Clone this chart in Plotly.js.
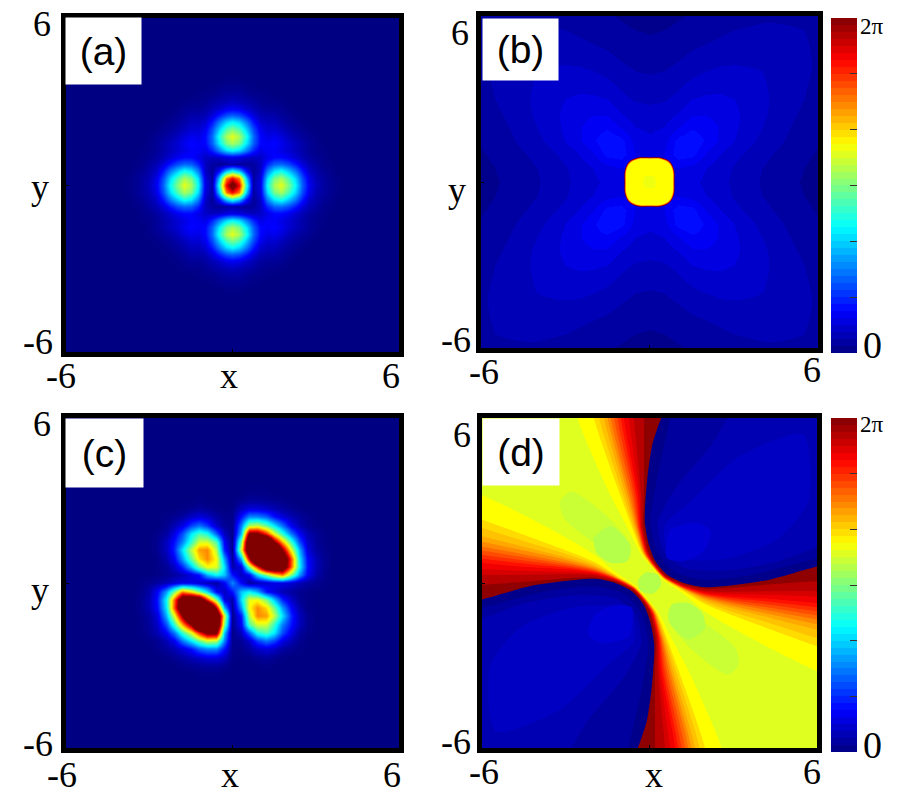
<!DOCTYPE html>
<html>
<head>
<meta charset="utf-8">
<script src="https://cdn.plot.ly/plotly-3.0.1.min.js"></script>
<style>html,body{margin:0;padding:0;background:#fff}</style>
</head>
<body>
<div id="chart" style="width:901px;height:796px"></div>
<script>
// (a) density, one quadrant: rows y = aAxis, columns x = aAxis, mirrored below
const aAxis = [0, .25, .5, .75, 1, 1.25, 1.5, 1.75, 2, 2.25, 2.5, 2.75, 3, 3.25, 3.5, 3.75, 4];
const aQuadrant = [
  [1.1, .88, .42, .04, .1, .38, .54, .6, .5, .38, .22, .11, .06, .03, .015, .005, 0],
  [.88, .75, .33, .03, .09, .34, .49, .54, .45, .34, .2, .1, .05, .03, .015, .005, 0],
  [.42, .33, .14, .02, .07, .25, .36, .4, .33, .25, .15, .07, .04, .02, .01, 0, 0],
  [.04, .03, .02, .03, .06, .16, .22, .23, .2, .15, .09, .05, .03, .01, .005, 0, 0],
  [.1, .09, .07, .06, .07, .1, .13, .13, .11, .08, .05, .03, .015, .01, 0, 0, 0],
  [.38, .34, .25, .16, .1, .12, .12, .1, .08, .06, .04, .02, .01, .005, 0, 0, 0],
  [.54, .49, .36, .22, .13, .12, .13, .11, .08, .06, .04, .02, .01, 0, 0, 0, 0],
  [.6, .54, .4, .23, .13, .1, .11, .09, .06, .04, .025, .015, .005, 0, 0, 0, 0],
  [.5, .45, .33, .2, .11, .08, .08, .06, .04, .025, .015, .005, 0, 0, 0, 0, 0],
  [.38, .34, .25, .15, .08, .06, .06, .04, .025, .015, .005, 0, 0, 0, 0, 0, 0],
  [.22, .2, .15, .09, .05, .04, .04, .025, .015, .005, 0, 0, 0, 0, 0, 0, 0],
  [.11, .1, .07, .05, .03, .02, .02, .015, .005, 0, 0, 0, 0, 0, 0, 0, 0],
  [.06, .05, .04, .03, .015, .01, .01, .005, 0, 0, 0, 0, 0, 0, 0, 0, 0],
  [.03, .03, .02, .01, .01, .005, 0, 0, 0, 0, 0, 0, 0, 0, 0, 0, 0],
  [.015, .015, .01, .005, 0, 0, 0, 0, 0, 0, 0, 0, 0, 0, 0, 0, 0],
  [.005, .005, 0, 0, 0, 0, 0, 0, 0, 0, 0, 0, 0, 0, 0, 0, 0],
  [0, 0, 0, 0, 0, 0, 0, 0, 0, 0, 0, 0, 0, 0, 0, 0, 0]
];

// (b) phase in 1/48ths of 2pi, one quadrant
const bAxis = [0, .5, 1, 1.5, 2, 2.5, 3, 3.5, 4, 4.5, 5, 5.5, 6];
const bQuadrant = [
  [4.6, 4.6, 4.5, 4.2, 3.8, 3.3, 2.8, 2.35, 1.9, 1.55, 1.2, .9, .6],
  [4.6, 4.8, 5, 4.6, 4, 3.45, 2.9, 2.4, 2, 1.65, 1.35, 1, .7],
  [4.5, 5, 6.6, 6.4, 4.9, 4, 3.3, 2.8, 2.3, 1.9, 1.55, 1.2, .9],
  [4.2, 4.6, 6.4, 6.9, 5.8, 4.8, 4, 3.3, 2.7, 2.25, 1.8, 1.45, 1.1],
  [3.8, 4, 4.9, 5.8, 5.5, 4.9, 4.2, 3.6, 3, 2.5, 2, 1.65, 1.3],
  [3.3, 3.45, 4, 4.8, 4.9, 4.6, 4.2, 3.7, 3.2, 2.7, 2.2, 1.8, 1.45],
  [2.8, 2.9, 3.3, 4, 4.2, 4.2, 4, 3.6, 3.2, 2.8, 2.4, 2, 1.6],
  [2.35, 2.4, 2.8, 3.3, 3.6, 3.7, 3.6, 3.3, 3.1, 2.8, 2.45, 2.1, 1.7],
  [1.9, 2, 2.3, 2.7, 3, 3.2, 3.2, 3.1, 3, 2.8, 2.5, 2.2, 1.8],
  [1.55, 1.65, 1.9, 2.25, 2.5, 2.7, 2.8, 2.8, 2.8, 2.6, 2.4, 2.2, 1.8],
  [1.2, 1.35, 1.55, 1.8, 2, 2.2, 2.4, 2.45, 2.5, 2.4, 2.3, 2.1, 1.8],
  [.9, 1, 1.2, 1.45, 1.65, 1.8, 2, 2.1, 2.2, 2.2, 2.1, 2, 1.75],
  [.6, .7, .9, 1.1, 1.3, 1.45, 1.6, 1.7, 1.8, 1.8, 1.8, 1.75, 1.7]
];
// central plateau outline of (b), and the size of each nested contour
const coreX = [1, .98, .82, .5, 0, -.5, -.82, -.98, -1, -.98, -.82, -.5, 0, .5, .82, .98, 1];
const coreY = [0, .5, .82, .98, 1, .98, .82, .5, 0, -.5, -.82, -.98, -1, -.98, -.82, -.5, 0];
const coreSizes = [.89, .875, .86, .84, .22];
const coreColors = ["#700000", "#f00000", "#ffa000", "#ffff00", "#eeff10"];

// (c) density, y >= 0 half: the lower half is the same turned by 180 degrees
const cX = [-3.9, -3.6, -3.3, -3, -2.7, -2.4, -2.1, -1.8, -1.5, -1.2, -.9, -.6, -.3, 0, .3, .6, .9, 1.2, 1.5, 1.8, 2.1, 2.4, 2.7, 3, 3.3, 3.6, 3.9];
const cY = [0, .3, .6, .9, 1.2, 1.5, 1.8, 2.1, 2.4, 2.7, 3, 3.3, 3.6, 3.9];
const cUpper = [
  [0, 0, .005, .015, .03, .05, .08, .1, .1, .08, .05, .03, .12, .26, .12, .03, .05, .08, .1, .1, .08, .05, .03, .015, .005, 0, 0],
  [0, 0, 0, 0, .005, .015, .03, .05, .09, .14, .3, .38, .32, .14, .06, .12, .35, .5, .65, .75, .5, .28, .12, .04, .01, 0, 0],
  [0, 0, 0, 0, .005, .02, .07, .16, .32, .5, .62, .6, .35, .04, .1, .5, .85, 1.25, 1.3, 1.2, .78, .38, .14, .05, .015, 0, 0],
  [0, 0, 0, 0, .005, .04, .12, .28, .48, .66, .74, .62, .28, .02, .3, .95, 1.6, 1.9, 1.7, 1.25, .8, .36, .13, .05, .015, 0, 0],
  [0, 0, 0, 0, .015, .06, .16, .35, .56, .72, .74, .55, .15, .01, .6, 1.3, 1.9, 2, 1.5, 1, .6, .3, .09, .03, .008, 0, 0],
  [0, 0, 0, 0, .015, .06, .14, .25, .42, .58, .58, .45, .12, .01, .5, 1.3, 1.6, 1.5, 1, .7, .42, .2, .07, .025, .005, 0, 0],
  [0, 0, 0, 0, .008, .03, .1, .2, .36, .45, .4, .22, .06, .005, .32, 1.05, 1.05, .85, .6, .42, .24, .12, .05, .02, .005, 0, 0],
  [0, 0, 0, 0, 0, .015, .05, .1, .19, .24, .18, .07, .02, .01, .25, .55, .58, .48, .36, .24, .11, .05, .015, .005, 0, 0, 0],
  [0, 0, 0, 0, 0, .005, .015, .03, .07, .09, .07, .03, .01, .01, .14, .26, .26, .22, .14, .09, .05, .025, .01, 0, 0, 0, 0],
  [0, 0, 0, 0, 0, 0, 0, .005, .015, .025, .015, .005, 0, .005, .06, .09, .09, .07, .05, .03, .015, .005, 0, 0, 0, 0, 0],
  [0, 0, 0, 0, 0, 0, 0, 0, 0, .005, 0, 0, 0, 0, .015, .025, .025, .02, .015, .008, 0, 0, 0, 0, 0, 0, 0],
  [0, 0, 0, 0, 0, 0, 0, 0, 0, 0, 0, 0, 0, 0, 0, .005, .005, .005, 0, 0, 0, 0, 0, 0, 0, 0, 0],
  [0, 0, 0, 0, 0, 0, 0, 0, 0, 0, 0, 0, 0, 0, 0, 0, 0, 0, 0, 0, 0, 0, 0, 0, 0, 0, 0],
  [0, 0, 0, 0, 0, 0, 0, 0, 0, 0, 0, 0, 0, 0, 0, 0, 0, 0, 0, 0, 0, 0, 0, 0, 0, 0, 0]
];

// (d) background phase (fraction of 2pi) between the fans
const dX = [-6, 0, 6];
const dY = [-6, 0, 6];
const dBase = [
  [.594, .594, .594],
  [.594, .594, .594],
  [.594, .594, .594]
];
// phase contours hugging the upper right lobe of (d); the other half is the same turned
const fanLevels = [.625, .66, .685, .71, .74, .77, .8, .83, .86, .89, .915, .945, .985];
const fanX = [
  [-2.7, -2.58, -1.4, -.78, -.33, .03, .5, 1.23, 1.94, 2.82, 4.37, 6, 7, 7, -2.7],
  [-2.1, -1.99, -1.05, -.62, -.27, .06, .52, 1.23, 1.94, 2.82, 4.37, 6, 7, 7, -2.1],
  [-1.9, -1.8, -.95, -.57, -.245, .07, .525, 1.23, 1.94, 2.82, 4.37, 6, 7, 7, -1.9],
  [-1.7, -1.63, -.85, -.52, -.22, .08, .53, 1.23, 1.94, 2.82, 4.37, 6, 7, 7, -1.7],
  [-1.57, -1.5, -.77, -.48, -.2, .09, .535, 1.23, 1.94, 2.82, 4.37, 6, 7, 7, -1.57],
  [-1.45, -1.39, -.7, -.44, -.18, .1, .54, 1.23, 1.94, 2.82, 4.37, 6, 7, 7, -1.45],
  [-1.32, -1.27, -.62, -.41, -.16, .11, .545, 1.23, 1.94, 2.82, 4.37, 6, 7, 7, -1.32],
  [-1.2, -1.15, -.55, -.38, -.14, .12, .55, 1.23, 1.94, 2.82, 4.37, 6, 7, 7, -1.2],
  [-1.08, -1.03, -.48, -.35, -.12, .13, .555, 1.23, 1.94, 2.82, 4.37, 6, 7, 7, -1.08],
  [-.97, -.92, -.42, -.32, -.1, .14, .56, 1.23, 1.94, 2.82, 4.37, 6, 7, 7, -.97],
  [-.78, -.74, -.36, -.3, -.08, .15, .565, 1.23, 1.94, 2.82, 4.37, 6, 7, 7, -.78],
  [-.6, -.56, -.3, -.27, -.06, .16, .57, 1.23, 1.94, 2.82, 4.37, 6, 7, 7, -.6],
  [-.2, -.2, -.2, -.22, -.02, .18, .58, 1.23, 1.94, 2.82, 4.37, 6, 7, 7, -.2]
];
const fanY = [
  [7, 6, 3.2, 2, 1.1, .62, .1, -.4, -1, -1.55, -2.4, -3.2, -3.6, 7, 7],
  [7, 6, 3.2, 2, 1.1, .64, .14, -.3, -.75, -1.12, -1.7, -2.3, -2.6, 7, 7],
  [7, 6, 3.2, 2, 1.1, .65, .15, -.27, -.67, -1, -1.48, -2, -2.25, 7, 7],
  [7, 6, 3.2, 2, 1.1, .66, .16, -.24, -.6, -.88, -1.28, -1.7, -1.95, 7, 7],
  [7, 6, 3.2, 2, 1.1, .665, .17, -.22, -.55, -.8, -1.15, -1.5, -1.7, 7, 7],
  [7, 6, 3.2, 2, 1.1, .67, .18, -.2, -.5, -.72, -1.02, -1.33, -1.5, 7, 7],
  [7, 6, 3.2, 2, 1.1, .675, .19, -.185, -.465, -.66, -.91, -1.18, -1.33, 7, 7],
  [7, 6, 3.2, 2, 1.1, .68, .2, -.17, -.43, -.6, -.8, -1.03, -1.18, 7, 7],
  [7, 6, 3.2, 2, 1.1, .69, .21, -.15, -.395, -.54, -.69, -.88, -1, 7, 7],
  [7, 6, 3.2, 2, 1.1, .7, .22, -.13, -.36, -.48, -.58, -.73, -.85, 7, 7],
  [7, 6, 3.2, 2, 1.1, .705, .23, -.11, -.32, -.4, -.44, -.51, -.62, 7, 7],
  [7, 6, 3.2, 2, 1.1, .71, .24, -.09, -.28, -.32, -.3, -.3, -.4, 7, 7],
  [7, 6, 3.2, 2, 1.1, .72, .26, -.05, -.2, -.18, -.05, .06, .05, 7, 7]
];
// greener patches in the middle of the bright fan
const patchLevels = [.573, .552, .552];
const patchX = [
  [-3.2, -2.8, -1.6, -.68, -.72, -1.87, -3.07, -3.2],
  [-1.99, -1.39, -.7, -.8, -1.39, -1.89, -1.99],
  [-.4, -.12, .32, .4, .12, -.32, -.4]
];
const patchY = [
  [2.97, 3.33, 2.5, 1.39, .9, 1.39, 2.36, 2.97],
  [1.64, 2.06, 1.39, .79, .73, 1.09, 1.64],
  [.1, .38, .28, -.1, -.38, -.28, .1]
];
// nested blue contours of the upper right lobe of (d); the lower left lobe is the same turned
const lobeX = [
  [.5, .42, .33, .1, -.08, -.17, -.02, .21, .63, 1.23, 1.94, 3.13, 4.3, 6, 7, 7, .5],
  [.95, .75, .27, .04, .27, .87, 1.94, 3.7, 6, 7, 7, .95],
  [3.6, 2.2, .9, .3, .5, 1.23, 2.65, 4.5, 6, 7, 7, 3.6],
  [5.5, 3.2, 1.5, .55, .6, 1.3, 2.8, 4.6, 5.7, 5.5],
  [.6, .75, 1.7, 2.2, 1.95, 1.23, .63, .6]
];
const lobeY = [
  [7, 6, 5.76, 5.03, 3.8, 2.24, 1.39, .79, .3, 0, -.15, -.06, .12, .6, .8, 7, 7],
  [7, 6, 3.8, 2.24, 1.15, .42, .12, .3, .9, 1.1, 7, 7],
  [7, 5, 3.4, 2.2, 1.15, .55, .45, .75, 1.3, 1.6, 7, 7],
  [5.4, 4.6, 3, 2.1, 1.3, .85, .9, 1.6, 3, 5.4],
  [1.4, 1.95, 2.2, 1.88, 1.15, .8, .9, 1.4]
];
const lobeColors = ["#00008a", "#00009e", "#0000b2", "#0000c2", "#0000d4"];

const colorbarTicks = [8, 16, 24, 32, 40];
const LEVELS = 48;

const jetStops = [
  [0, [0, 0, 131]], [.125, [0, 0, 255]], [.375, [0, 255, 255]],
  [.625, [255, 255, 0]], [.875, [255, 0, 0]], [1, [128, 0, 0]]
];
const jet = jetStops.map(s => [s[0], `rgb(${s[1].join(",")})`]);

function jetAt(t) {
  let i = 0;
  while (i < jetStops.length - 2 && t > jetStops[i + 1][0]) i++;
  const [t0, c0] = jetStops[i];
  const [t1, c1] = jetStops[i + 1];
  const f = (t - t0) / (t1 - t0);
  return `rgb(${c0.map((c, k) => Math.round(c + (c1[k] - c) * f)).join(",")})`;
}

// the contour-filled panels and their colour bars are stepped
const steppedJet = [];
for (let k = 0; k < LEVELS; k++) {
  const color = jetAt((k + .5) / LEVELS);
  steppedJet.push([k / LEVELS, color], [(k + 1) / LEVELS, color]);
}

function mirrorAxis(axis) {
  return [...axis.slice(1).reverse().map(v => -v), ...axis];
}
function mirrorQuadrant(rows) {
  const full = rows.map(r => [...r.slice(1).reverse(), ...r]);
  return [...full.slice(1).reverse(), ...full];
}
function turnHalf(rows) {
  return [...rows.slice(1).reverse().map(r => r.slice().reverse()), ...rows];
}

const W = 901, H = 796;
const px = x => x / W;
const py = y => 1 - y / H;

const panels = [
  { name: "", x0: 66, x1: 399, y0: 18, y1: 352 },
  { name: "2", x0: 481, x1: 818, y0: 16, y1: 348 },
  { name: "3", x0: 66, x1: 399, y0: 418, y1: 748 },
  { name: "4", x0: 482, x1: 817, y0: 418, y1: 748 }
];

function barFor(y0, y1) {
  return {
    x: px(831), xanchor: "left", xpad: 0,
    y: py(y0), yanchor: "top", ypad: 0,
    len: (y1 - y0) / H, lenmode: "fraction",
    thickness: 26, thicknessmode: "pixels",
    outlinewidth: 0,
    tickmode: "array", tickvals: colorbarTicks,
    ticks: "inside", ticklen: 7, tickcolor: "#333", tickwidth: 1,
    showticklabels: false
  };
}

const traces = [
  {
    type: "heatmap", x: mirrorAxis(aAxis), y: mirrorAxis(aAxis), z: mirrorQuadrant(aQuadrant),
    zmin: 0, zmax: 1, zsmooth: "best", colorscale: jet, showscale: false, xaxis: "x", yaxis: "y"
  },
  {
    type: "heatmap", x: mirrorAxis(bAxis), y: mirrorAxis(bAxis), z: mirrorQuadrant(bQuadrant),
    zmin: 0, zmax: LEVELS, zsmooth: "best", colorscale: steppedJet,
    colorbar: barFor(18, 353), xaxis: "x2", yaxis: "y2"
  },
  {
    type: "heatmap", x: cX, y: mirrorAxis(cY), z: turnHalf(cUpper),
    zmin: 0, zmax: 1, zsmooth: "best", colorscale: jet, showscale: false, xaxis: "x3", yaxis: "y3"
  },
  {
    type: "heatmap", x: dX, y: dY, z: dBase,
    zmin: 0, zmax: 1, colorscale: steppedJet, xaxis: "x4", yaxis: "y4",
    colorbar: { ...barFor(418, 752), tickvals: colorbarTicks.map(v => v / LEVELS) }
  }
];

function filled(x, y, color, xaxis, yaxis, smoothing) {
  return {
    type: "scatter", mode: "lines", x, y, fill: "toself", fillcolor: color,
    line: { width: 0, shape: "spline", smoothing: smoothing || .7, color },
    hoverinfo: "skip", showlegend: false, xaxis, yaxis
  };
}
function filledBothWays(x, y, color) {
  traces.push(filled(x, y, color, "x4", "y4"));
  traces.push(filled(x.map(v => -v), y.map(v => -v), color, "x4", "y4"));
}

coreSizes.forEach((s, i) => {
  traces.push(filled(coreX.map(v => v * s), coreY.map(v => v * s), coreColors[i], "x2", "y2", 1));
});
fanX.forEach((xs, i) => filledBothWays(xs, fanY[i], jetAt(fanLevels[i])));
patchX.forEach((xs, i) => filledBothWays(xs, patchY[i], jetAt(patchLevels[i])));
lobeX.forEach((xs, i) => filledBothWays(xs, lobeY[i], lobeColors[i]));

const layout = {
  width: W, height: H,
  margin: { l: 0, r: 0, t: 0, b: 0 },
  paper_bgcolor: "#fff", plot_bgcolor: "rgb(0,0,131)",
  showlegend: false, hovermode: false,
  shapes: [], annotations: []
};

panels.forEach(p => {
  const common = {
    range: [-6, 6], fixedrange: true, showgrid: false, zeroline: false,
    showline: true, linewidth: 5, linecolor: "#000", mirror: true,
    tickmode: "array", tickvals: [0], ticks: "inside", ticklen: 3, tickcolor: "#000",
    showticklabels: false
  };
  layout["xaxis" + p.name] = {
    ...common, anchor: "y" + p.name, domain: [px(p.x0), px(p.x1)]
  };
  layout["yaxis" + p.name] = {
    ...common, anchor: "x" + p.name, domain: [py(p.y1), py(p.y0)]
  };
});

function label(text, x, y, size, family) {
  layout.annotations.push({
    text, xref: "paper", yref: "paper", x: px(x), y: py(y), xanchor: "center", yanchor: "middle",
    showarrow: false, font: { family: family || "Liberation Serif", size, color: "#000" }
  });
}

function tag(text, x0, y0, x1, y1) {
  layout.annotations.push({
    text, xref: "paper", yref: "paper", x: px(x0), y: py(y0), xanchor: "left", yanchor: "top",
    width: x1 - x0, height: y1 - y0, bgcolor: "#fff", borderpad: 0, showarrow: false, align: "center",
    font: { family: "Liberation Sans", size: 39, color: "#000" }
  });
}

tag("(a)", 65, 17, 140, 83);
tag("(b)", 482, 18, 557, 79);
tag("(c)", 65, 418, 142, 486);
tag("(d)", 482, 418, 558, 484);

label("6", 42, 24, 36); label("-6", 38, 342, 36); label("y", 40, 187, 36);
label("-6", 61, 376, 36); label("x", 229, 376, 36); label("6", 391, 376, 36);
label("6", 460, 33, 36); label("-6", 456, 340, 36); label("y", 457, 190, 36);
label("-6", 484, 372, 36); label("6", 812, 370, 36);
label("6", 42, 424, 36); label("-6", 38, 744, 36); label("y", 40, 590, 36);
label("-6", 62, 775, 36); label("x", 230, 775, 36); label("6", 392, 775, 36);
label("6", 462, 435, 36); label("-6", 456, 742, 36);
label("-6", 484, 772, 36); label("x", 654, 775, 36); label("6", 812, 772, 36);

label("2π", 872, 27, 23); label("0", 872, 345, 38);
label("2π", 872, 425, 23); label("0", 872, 745, 38);

// colour bar dashes also show on the left edge
[[18, 353], [418, 752]].forEach(([y0, y1]) => {
  colorbarTicks.forEach(v => {
    const y = y1 - (y1 - y0) * v / LEVELS;
    layout.shapes.push({
      type: "line", xref: "paper", yref: "paper",
      x0: px(831), x1: px(838), y0: py(y), y1: py(y),
      line: { color: "#333", width: 1 }
    });
  });
});

Plotly.newPlot("chart", traces, layout, { staticPlot: true, displayModeBar: false });
</script>
</body>
</html>
